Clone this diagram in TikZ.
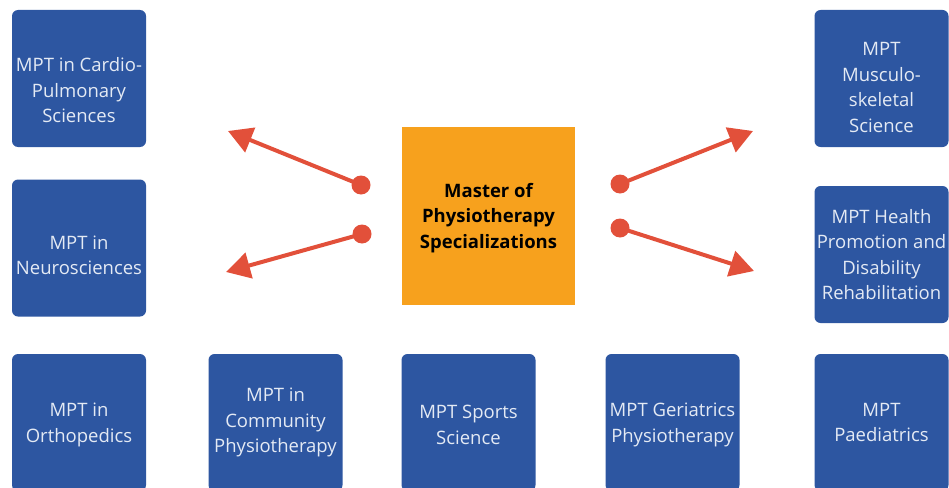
\documentclass[tikz,border=0pt]{standalone}
\usepackage{fontspec}
\setmainfont{Open Sans}
\usetikzlibrary{positioning, arrows.meta}

\definecolor{mptblue}{RGB}{45,86,161}
\definecolor{mpttext}{RGB}{228,234,244}
\definecolor{mptorange}{RGB}{247,161,29}
\definecolor{mptred}{RGB}{226,80,58}

% invisible strut to push a label down in its box
\newcommand{\lowerby}[1]{\rule{0pt}{#1}}

\begin{document}
\begin{tikzpicture}[x=1pt, y=-1pt, >={Triangle[length=24pt,width=26pt]},
	spec/.style={fill=mptblue, rounded corners=6pt, minimum width=134pt, minimum height=137pt, inner sep=0pt, align=center, text=mpttext, font=\fontsize{18.5}{25.5}\selectfont},
	hub/.style={fill=mptorange, minimum width=173pt, minimum height=178pt, inner sep=0pt, align=center, font=\bfseries\fontsize{18.5}{25.5}\selectfont},
	dot/.style={circle, fill=mptred, minimum size=19pt, inner sep=0pt},
	spoke/.style={->, color=mptred, line width=4pt}]

		\useasboundingbox (0,0) rectangle (949,487);
		\clip (0,0) rectangle (949,487);

			\node (hub) [hub] at (488.5,216) {\lowerby{18pt}Master of\\Physiotherapy\\Specializations};

			\node (cardio) [spec] at (79,78.5) {\lowerby{38pt}MPT in Cardio-\\Pulmonary\\Sciences};
			\node (neuro) [spec] at (79,248) {\lowerby{28pt}MPT in\\Neurosciences};
			\node (musculo) [spec] at (881.5,78.5) {\lowerby{31pt}MPT\\Musculo-\\skeletal\\Science};
			\node (health) [spec] at (881.5,254.5) {MPT Health\\Promotion and\\Disability\\Rehabilitation};

			\node (ortho) [spec] at (79,422.5) {\lowerby{18pt}MPT in\\Orthopedics};
			\node (community) [spec] at (275.5,422.5) {MPT in\\Community\\Physiotherapy};
			\node (sports) [spec] at (468.5,422.5) {\lowerby{18pt}MPT Sports\\Science};
			\node (geriatrics) [spec] at (672.5,422.5) {\lowerby{18pt}MPT Geriatrics\\Physiotherapy};
			\node (paed) [spec] at (881.5,422.5) {MPT\\Paediatrics};

			% spokes out of the hub
			\node (d1) [dot] at (361,185) {};
			\node (d2) [dot] at (362,234) {};
			\node (d3) [dot] at (620,184) {};
			\node (d4) [dot] at (620,228) {};
			\coordinate (t1) at (228,131);
			\coordinate (t2) at (226,272);
			\coordinate (t3) at (753,131);
			\coordinate (t4) at (754,271);

				\path
					(d1.center) edge [spoke] (t1)
					(d2.center) edge [spoke] (t2)
					(d3.center) edge [spoke] (t3)
					(d4.center) edge [spoke] (t4);

\end{tikzpicture}
\end{document}
